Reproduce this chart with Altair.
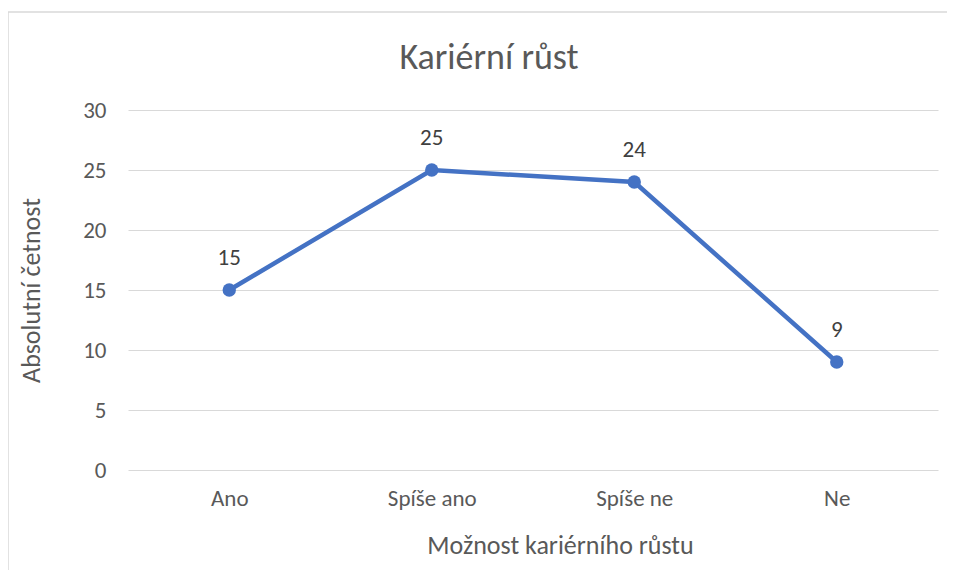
import altair as alt
import pandas as pd

categories = ["Ano", "Spíše ano", "Spíše ne", "Ne"]
values = [15, 25, 24, 9]
y_ticks = [0, 5, 10, 15, 20, 25, 30]
chart_title = ["Kariérní růst"]

df = pd.DataFrame({"kat": categories, "val": values})

FONT = "Carlito, Calibri, Open Sans"
GREY = "#595959"
BLUE = "#4472C4"

x_enc = alt.X(
    "kat:N",
    sort=categories,
    scale=alt.Scale(paddingInner=0, paddingOuter=0.5),
    axis=alt.Axis(
        title="Možnost kariérního růstu",
        labelAngle=0,
        labelFontSize=23,
        labelColor=GREY,
        labelPadding=17,
        titleFontSize=26,
        titleColor=GREY,
        titleFontWeight="normal",
        titlePadding=22,
        titleX=432,
        ticks=False,
        domain=False,
        grid=False,
    ),
)
y_enc = alt.Y(
    "val:Q",
    scale=alt.Scale(domain=[0, 30]),
    axis=alt.Axis(
        title="Absolutní četnost",
        values=y_ticks,
        labelFontSize=23,
        labelColor=GREY,
        labelPadding=22,
        titleFontSize=26,
        titleColor=GREY,
        titleFontWeight="normal",
        titleX=-84,
        titleY=180,
        ticks=False,
        domain=False,
        gridColor="#d9d9d9",
        gridWidth=1,
    ),
)

border = alt.Chart(pd.DataFrame({"a": [0]})).mark_rect(
    fill=None, stroke="#d9d9d9", strokeWidth=1.5, clip=False
).encode(
    x=alt.value(-120), x2=alt.value(900), y=alt.value(-98), y2=alt.value(560)
)

title_mark = alt.Chart(pd.DataFrame({"t": chart_title})).mark_text(
    fontSize=36, color=GREY, font=FONT, baseline="middle", align="center"
).encode(x=alt.value(361), y=alt.value(-52), text="t:N")

line = alt.Chart(df).mark_line(color=BLUE, strokeWidth=4.5).encode(x=x_enc, y=y_enc)
points = alt.Chart(df).mark_circle(color=BLUE, size=180, opacity=1).encode(x=x_enc, y=y_enc)
labels = alt.Chart(df).mark_text(
    dy=-32, fontSize=23, color="#404040", font=FONT
).encode(x=x_enc, y=y_enc, text="val:Q")

chart = (
    alt.layer(border, title_mark, line, points, labels)
    .properties(
        width=810,
        height=360,
        autosize=alt.AutoSizeParams(type="none"),
        padding={"left": 120, "top": 102, "right": 9, "bottom": 100},
    )
    .configure_view(stroke=None)
    .configure_axis(labelFont=FONT, titleFont=FONT)
)

chart.save("out.html", embed_options={"renderer": "svg", "actions": False})
